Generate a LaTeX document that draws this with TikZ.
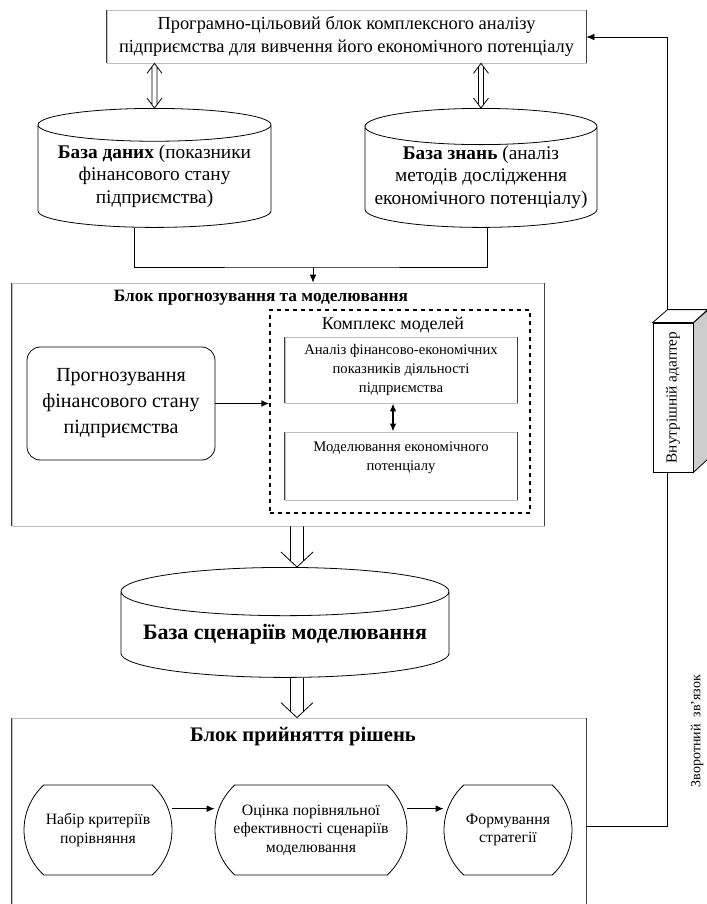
\documentclass[tikz,border=0pt]{standalone}
\usepackage{fontspec}
\setmainfont{Liberation Serif}
\usetikzlibrary{arrows.meta,shapes.geometric,shapes.misc,calc}

\tikzset{
  panel/.style={draw=black!25, align=center, inner sep=0pt,
    append after command={
      (\tikzlastnode.north west) edge[draw=black!75] (\tikzlastnode.south west)
      (\tikzlastnode.north east) edge[draw=black!75] (\tikzlastnode.south east)}},
  base/.style={cylinder, shape border rotate=90, draw, aspect=0.17, align=center, inner sep=0pt, anchor=north},
  term/.style={rounded rectangle, rounded rectangle arc length=95, draw, align=center,
    inner sep=0pt, font=\fontsize{11.8}{14}\selectfont},
  % open double arrow, pointing down
  hollow/.style={to path={
    ($(\tikztostart)+(-6.5,0)$) -- ($(\tikztotarget)+(-6.5,-6.1)$)
    ($(\tikztostart)+(6.5,0)$) -- ($(\tikztotarget)+(6.5,-6.1)$)
    ($(\tikztotarget)+(-16,-15)$) -- (\tikztotarget) -- ($(\tikztotarget)+(16,-15)$)}},
  % open double arrow, both ends
  hollowboth/.style={to path={
    ($(\tikztostart)+(-2.5,3.3)$) -- ($(\tikztotarget)+(-2.5,-3.3)$)
    ($(\tikztostart)+(2.5,3.3)$) -- ($(\tikztotarget)+(2.5,-3.3)$)
    ($(\tikztostart)+(-7.5,10)$) -- (\tikztostart) -- ($(\tikztostart)+(7.5,10)$)
    ($(\tikztotarget)+(-7.5,-10)$) -- (\tikztotarget) -- ($(\tikztotarget)+(7.5,-10)$)}},
}

\begin{document}
\begin{tikzpicture}[x=0.75pt,y=-0.75pt,>={Latex[length=6pt,width=5pt]},line width=0.6pt]
\useasboundingbox (0,0) rectangle (707,904);

% top block
\node[panel,minimum width=359.25pt,minimum height=39.75pt,font=\fontsize{13.8}{17.5}\selectfont] (prog) at (346.5,36.5)
  {Програмно-цільовий блок комплексного аналізу\\підприємства для вивчення його економічного потенціалу};

% bases
\node[base,minimum width=174.75pt,minimum height=89.25pt,font=\fontsize{14.5}{17}\selectfont] (bd) at (154.5,108)
  {\textbf{База даних} (показники\\фінансового стану\\підприємства)};
\node[base,minimum width=174pt,minimum height=89.25pt,font=\fontsize{14.5}{17}\selectfont] (bz) at (481,108)
  {\textbf{База знань} (аналіз\\методів дослідження\\економічного потенціалу)};
\draw[hollowboth] (prog.south -| bd.north) to (bd.north);
\draw[hollowboth] (prog.south -| bz.north) to (bz.north);

\coordinate (junc) at (313,267);
\draw ([xshift=-15.4pt]bd.south) |- (junc) -| ([xshift=5pt]bz.south);

% forecast block
\node[panel,minimum width=399pt,minimum height=182.25pt] (fore) at (278,404.5) {};
\draw[->] (junc) -- (junc |- fore.north);
\node[font=\bfseries\fontsize{13}{15}\selectfont] (foretitle) at (261,298) {Блок прогнозування та моделювання};
\node[draw,dashed,line width=0.8pt,minimum width=195pt,minimum height=152.25pt] (models) at (400,411.5) {};
\node[font=\fontsize{13.5}{15}\selectfont] (modtitle) at (393,325) {Комплекс моделей};
\node[panel,minimum width=174pt,minimum height=49.5pt,font=\fontsize{11}{14}\selectfont] (anal) at (401,370)
  {Аналіз фінансово-економічних\\показників діяльності\\підприємства};
\node[panel,minimum width=174pt,minimum height=51pt,
  label={[font=\fontsize{11}{14}\selectfont,align=center,anchor=north,yshift=-4pt]north:Моделювання економічного\\потенціалу}] (model) at (401,466) {};
\draw[<->,line width=1.2pt] ([xshift=-6pt]anal.south) -- ([xshift=-6pt]model.north);
\node[draw,rounded corners=10pt,minimum width=141pt,minimum height=84.75pt,font=\fontsize{15}{19.5}\selectfont,align=center] (prfin) at (121,403.5)
  {Прогнозування\\фінансового стану\\підприємства};
\draw[->,line width=1.2pt] (prfin.east) -- (prfin.east -| models.west);

% scenarios
\coordinate (ax) at (297,0);
\node[base,minimum width=246pt,minimum height=82.5pt,font=\bfseries\fontsize{16.5}{20}\selectfont] (scen) at (285,567)
  {База сценаріїв моделювання};
\draw[hollow] (fore.south -| ax) to (scen.north -| ax);

% decision block
\node[panel,minimum width=430.5pt,minimum height=141pt] (dec) at (299,812) {};
\draw[hollow] (scen.south -| ax) to (dec.north -| ax);
\node[font=\bfseries\fontsize{15.5}{18}\selectfont] (dectitle) at (303,737) {Блок прийняття рішень};
\node[term,minimum width=111pt,minimum height=67.5pt] (crit) at (98,830) {Набір критеріїв\\порівняння};
\node[term,minimum width=144pt,minimum height=67.5pt] (eval) at (311,830) {Оцінка порівняльної\\ефективності сценаріїв\\моделювання};
\node[term,minimum width=96pt,minimum height=67.5pt] (strat) at (508,830) {Формування\\стратегії};
\draw[->] ([yshift=16pt]crit.east) -- ([yshift=16pt]eval.west);
\draw[->] ([yshift=16pt]eval.east) -- ([yshift=16pt]strat.west);

% feedback
\node[draw,fill=white,minimum width=30pt,minimum height=111.75pt,inner sep=0pt,font=\fontsize{11.5}{13}\selectfont] (adapt) at (673,397.5)
  {\rotatebox{90}{Внутрішній адаптер}};
\draw[fill=black!20] (adapt.north east) -- ++(15,-13) -- ++(0,149) -- (adapt.south east) -- cycle;
\draw[fill=white] (adapt.north west) -- ++(15,-13) -- ++(40,0) -- (adapt.north east) -- cycle;
\coordinate (fbbot) at (667,826);
\coordinate (fbtop) at (667,37);
\draw (dec.east |- fbbot) -- (fbbot) -- (adapt.south -| fbbot);
\draw[->] ($(adapt.north -| fbbot)+(0,-13)$) -- (fbtop) -- (prog.east |- fbtop);
\node[rotate=90,font=\fontsize{10.5}{12}\selectfont] (fbtext) at (697,731) {Зворотний\ \ зв’язок};

\end{tikzpicture}
\end{document}
